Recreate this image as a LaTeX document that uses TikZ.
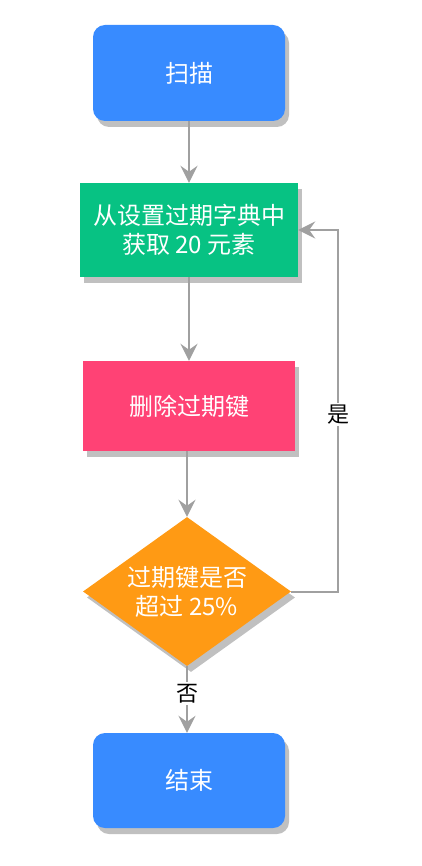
\documentclass[tikz,border=0pt]{standalone}
\usepackage{fontspec}
\setmainfont{Noto Sans CJK SC}
\usetikzlibrary{shapes.geometric,arrows.meta,shadows}
\definecolor{cblue}{HTML}{388BFF}
\definecolor{cgreen}{HTML}{07C283}
\definecolor{cpink}{HTML}{FF4275}
\definecolor{corange}{HTML}{FF9A14}
\definecolor{cline}{HTML}{A0A0A0}
\definecolor{cshadow}{HTML}{C0C0C0}
\tikzset{
  shad/.style={drop shadow={shadow xshift=4pt,shadow yshift=-6pt,fill=cshadow,opacity=1}},
  box/.style={shad,draw=none,text=white,align=center,inner sep=0pt,
    font=\fontsize{24pt}{29pt}\selectfont},
  term/.style={box,fill=cblue,rounded corners=12pt,minimum width=192pt,minimum height=96pt},
  proc/.style={box,minimum width=#1,minimum height=94pt},
  dec/.style={box,fill=corange,diamond,aspect=1.396,minimum width=208pt,minimum height=149pt},
  arr/.style={draw=cline,line width=2pt,-{Stealth[length=17pt,width=17pt,inset=6pt]}},
  lbl/.style={fill=white,text=black,inner sep=2pt,font=\fontsize{22pt}{25pt}\selectfont}
}
\begin{document}
\begin{tikzpicture}[x=1pt,y=-1pt]
\useasboundingbox (0,0) rectangle (422,866);
\node[term] (scan) at (189,73) {扫描};
\node[proc=218pt,fill=cgreen] (fetch) at (189,230) {从设置过期字典中\\获取 20 元素};
\node[proc=212pt,minimum height=90pt,fill=cpink] (del) at (189,406) {删除过期键};
\node[dec] (chk) at (187,591.5) {过期键是否\\超过 25\%};
\node[term,minimum height=95pt] (end) at (189,780.5) {结束};
\coordinate (corner) at (338,591.5);
\draw[arr] (scan) -- (fetch);
\draw[arr] (fetch) -- (del);
\draw[arr] (del.south -| chk.north) -- (chk.north);
\draw[arr] (chk.south) -- (chk.south |- end.north) node[midway,lbl,yshift=6pt] {否};
\draw[arr] (chk.east) -- (corner) |- (fetch.east) node[pos=0.25,lbl,yshift=-4pt] {是};
\end{tikzpicture}
\end{document}
